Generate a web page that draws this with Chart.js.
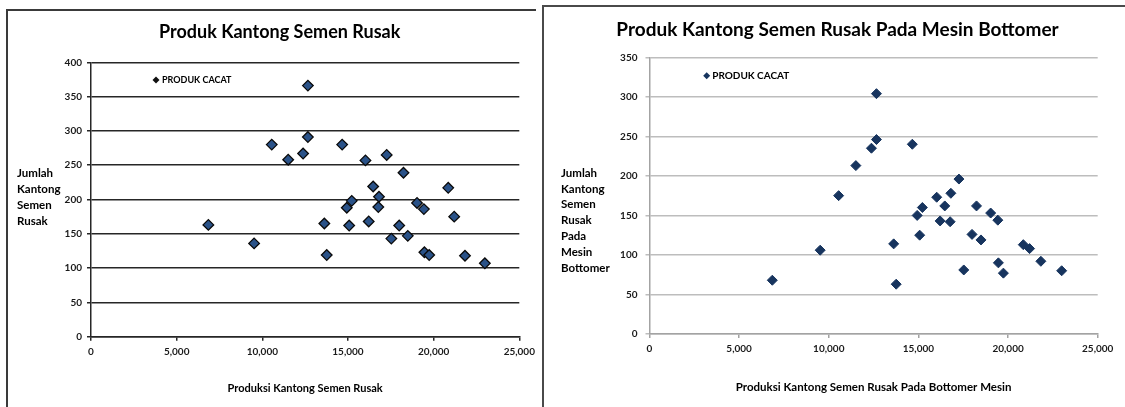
<!DOCTYPE html>
<html>
<head>
<meta charset="utf-8">
<title>Produk Kantong Semen Rusak</title>
<script src="https://cdn.jsdelivr.net/npm/chart.js@4.4.1/dist/chart.umd.min.js"></script>
<style>
  html, body { margin: 0; padding: 0; background: #fff; }
  body { width: 1125px; height: 407px; position: relative; overflow: hidden; }
  .frame { position: absolute; box-sizing: border-box; }
  #frameA { left: 6px; top: 9px; width: 530px; height: 398px; border-top: 2px solid #3a3a3a; border-left: 2px solid #3a3a3a; }
  #frameB { left: 542px; top: 5px; width: 583px; height: 402px; border-top: 2px solid #4a4a4a; border-left: 2px solid #4a4a4a; }
  canvas { position: absolute; top: 0; }
  #chartA { left: 0; }
  #chartB { left: 540px; }
</style>
</head>
<body>
<div class="frame" id="frameA"></div>
<div class="frame" id="frameB"></div>
<canvas id="chartA" width="540" height="407"></canvas>
<canvas id="chartB" width="585" height="407"></canvas>

<script>
// Produksi kantong semen (x) per pengamatan
const produksi = [6850, 9520, 10550, 11510, 12380, 12660, 12660, 13620, 13760, 14660,
                  14930, 15220, 15070, 16020, 16210, 16470, 16810, 16770, 17260, 17530,
                  17990, 18240, 18490, 19030, 19430, 19460, 19740, 20850, 21200, 21830, 22990];
// Jumlah kantong semen rusak (total)
const rusakTotal = [163, 136, 280, 258, 267, 366, 291, 165, 119, 280,
                    188, 198, 162, 257, 168, 219, 204, 189, 265, 143,
                    162, 239, 147, 195, 186, 123, 119, 217, 175, 118, 107];
// Jumlah kantong semen rusak pada mesin bottomer
const rusakBottomer = [68, 106, 175, 213, 235, 304, 246, 114, 63, 240,
                       150, 160, 125, 173, 143, 162, 178, 142, 196, 81,
                       126, 162, 119, 153, 144, 90, 77, 113, 108, 92, 80];

const seriesLabel = 'PRODUK CACAT';
const xTickValues = [0, 5000, 10000, 15000, 20000, 25000];
const yTickValuesA = [0, 50, 100, 150, 200, 250, 300, 350, 400];
const yTickValuesB = [0, 50, 100, 150, 200, 250, 300, 350];

Chart.defaults.font.family = 'Lato, "Open Sans", sans-serif';
Chart.defaults.color = '#111';

function toPoints(xs, ys) {
  return xs.map((x, i) => ({ x: x, y: ys[i] }));
}

// Draws the horizontal multi-line y-axis caption and the in-plot legend entry
const sideText = {
  id: 'sideText',
  afterDraw(chart, args, o) {
    const ctx = chart.ctx;
    const area = chart.chartArea;
    ctx.save();
    ctx.fillStyle = o.color;
    ctx.textAlign = 'left';
    ctx.textBaseline = 'middle';
    ctx.font = 'bold ' + o.yTitleSize + 'px ' + Chart.defaults.font.family;
    o.yTitle.forEach((line, i) => ctx.fillText(line, o.yTitleX, o.yTitleY + i * o.yTitleGap));

    const ds = chart.data.datasets[0];
    const lx = area.left + o.legendDX;
    const ly = area.top + o.legendDY;
    ctx.fillStyle = o.legendMarker;
    Chart.helpers.drawPoint(ctx, { pointStyle: 'rectRot', radius: o.legendRadius, borderWidth: 0, rotation: 0 }, lx, ly);
    ctx.fillStyle = o.color;
    ctx.font = 'bold ' + o.legendSize + 'px ' + Chart.defaults.font.family;
    ctx.fillText(ds.label, lx + o.legendGap, ly + 0.5);
    ctx.restore();
  }
};

function makeChart(id, cfg) {
  const tickFont = { size: 10, weight: 'bold' };
  return new Chart(document.getElementById(id), {
    type: 'scatter',
    data: {
      datasets: [{
        label: seriesLabel,
        data: toPoints(produksi, cfg.values),
        pointStyle: 'rectRot',
        pointRadius: cfg.radius,
        pointHoverRadius: cfg.radius,
        backgroundColor: cfg.fill,
        borderColor: cfg.stroke,
        borderWidth: cfg.strokeWidth
      }]
    },
    options: {
      responsive: false,
      animation: false,
      devicePixelRatio: 1,
      layout: { padding: cfg.padding },
      plugins: {
        legend: { display: false },
        tooltip: { enabled: false },
        title: {
          display: true,
          text: cfg.title,
          color: '#000',
          font: { size: cfg.titleSize, weight: 'bold', lineHeight: 1.2 },
          padding: cfg.titlePadding
        },
        sideText: cfg.side
      },
      scales: {
        x: {
          type: 'linear',
          min: 0,
          max: 25000,
          afterBuildTicks: s => { s.ticks = xTickValues.map(v => ({ value: v })); },
          ticks: {
            font: tickFont,
            color: '#1a1a1a',
            padding: cfg.xTickPad,
            maxRotation: 0,
            callback: v => v.toLocaleString('en-US')
          },
          grid: { drawOnChartArea: false, drawTicks: true, tickLength: 4, color: cfg.axisColor, lineWidth: 1.5 },
          border: { display: true, color: cfg.axisColor, width: 1.5 },
          title: {
            display: true,
            text: cfg.xTitle,
            color: '#000',
            font: { size: cfg.xTitleSize, weight: 'bold', lineHeight: 1.2 },
            padding: { top: 0, bottom: cfg.xTitleBottom }
          },
          afterFit: s => { s.height = cfg.xAxisHeight; }
        },
        y: {
          type: 'linear',
          min: 0,
          max: cfg.yMax,
          afterBuildTicks: s => { s.ticks = cfg.yTicks.map(v => ({ value: v })); },
          ticks: { font: tickFont, color: '#1a1a1a', padding: cfg.yTickPad },
          grid: { drawTicks: true, tickLength: 4, color: cfg.gridColor, lineWidth: 1.5 },
          border: { display: true, color: cfg.axisColor, width: 1.5 },
          afterFit: s => { s.width = cfg.yAxisWidth; }
        }
      }
    },
    plugins: [sideText]
  });
}

// Panel kiri: total kantong rusak
makeChart('chartA', {
  values: rusakTotal,
  title: 'Produk Kantong Semen Rusak',
  titleSize: 18,
  titlePadding: { top: 21, bottom: 19.7 },
  padding: { left: 40, right: 20.7, top: 0, bottom: 0 },
  yAxisWidth: 51,
  xAxisHeight: 70.3,
  yMax: 400,
  yTicks: yTickValuesA,
  xTickPad: 5,
  yTickPad: 5,
  xTitle: 'Produksi Kantong Semen Rusak',
  xTitleSize: 11,
  xTitleBottom: 11.8,
  gridColor: '#262626',
  axisColor: '#262626',
  radius: 5.3,
  fill: '#2a5288',
  stroke: '#0a0a0a',
  strokeWidth: 1.3,
  side: {
    color: '#000',
    yTitle: ['Jumlah', 'Kantong', 'Semen', 'Rusak'],
    yTitleX: 17, yTitleY: 173, yTitleGap: 16, yTitleSize: 11.5,
    legendDX: 65, legendDY: 17.7, legendRadius: 3.5, legendGap: 6,
    legendSize: 9, legendMarker: '#111'
  }
});

// Panel kanan: kantong rusak pada mesin bottomer
makeChart('chartB', {
  values: rusakBottomer,
  title: 'Produk Kantong Semen Rusak Pada Mesin Bottomer',
  titleSize: 19,
  titlePadding: { top: 18.6, bottom: 15.9 },
  padding: { left: 37.3, right: 27.3, top: 0, bottom: 0 },
  yAxisWidth: 72.2,
  xAxisHeight: 73,
  yMax: 350,
  yTicks: yTickValuesB,
  xTickPad: 5,
  yTickPad: 8,
  xTitle: 'Produksi Kantong Semen Rusak Pada Bottomer Mesin',
  xTitleSize: 11.5,
  xTitleBottom: 13.1,
  gridColor: '#bdbdbd',
  axisColor: '#a3a3a3',
  radius: 5,
  fill: '#17345e',
  stroke: '#17345e',
  strokeWidth: 1,
  side: {
    color: '#000',
    yTitle: ['Jumlah', 'Kantong', 'Semen', 'Rusak', 'Pada', 'Mesin', 'Bottomer'],
    yTitleX: 21, yTitleY: 173, yTitleGap: 15.8, yTitleSize: 11.5,
    legendDX: 57.2, legendDY: 18.4, legendRadius: 3.5, legendGap: 5.5,
    legendSize: 10, legendMarker: '#17345e'
  }
});
</script>
</body>
</html>
